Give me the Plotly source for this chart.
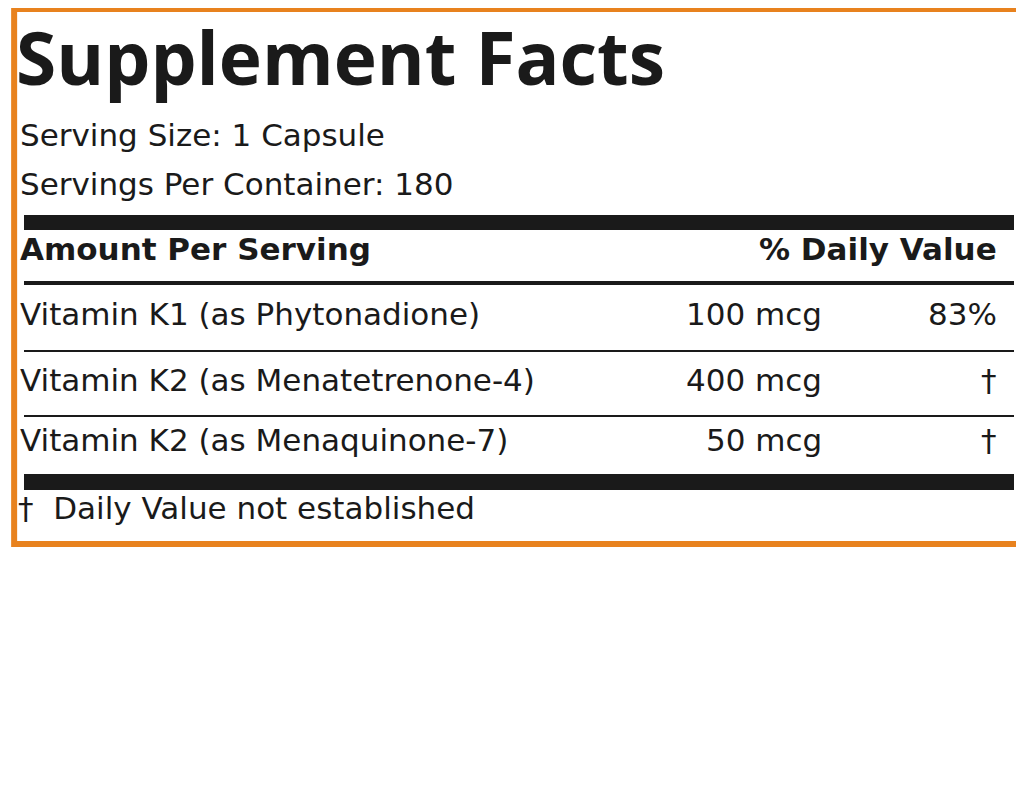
import plotly.graph_objects as go

ORANGE = "#E8821E"
INK = "#1a1a1a"
FONT = "DejaVu Sans"

title = "Supplement Facts"
serving_lines = ["Serving Size: 1 Capsule", "Servings Per Container: 180"]
header_left = "Amount Per Serving"
header_right = "% Daily Value"
nutrients = ["Vitamin K1 (as Phytonadione)", "Vitamin K2 (as Menatetrenone-4)", "Vitamin K2 (as Menaquinone-7)"]
amounts = ["100 mcg", "400 mcg", "50 mcg"]
daily_values = ["83%", "†", "†"]
footnote = "†  Daily Value not established"
other_label = "Other Ingredients:"
other_lines = [" Microcrystalline cellulose, modified", "cellulose capsule, magnesium stearate, silicon dioxide."]
dir_label = "Directions:"
dir_lines = [" As a dietary supplement for adults, take 1", "capsule daily with a meal or as directed by a healthcare", "professional."]

fig = go.Figure()
anns = []
DX, DY = -6, -6
def txt(x, y, s, size=31, anchor="left", color=INK, family=FONT):
    anns.append(dict(x=x + (DX if anchor == "left" else 4), y=y + DY, xref="x", yref="y", text=s, showarrow=False,
                     xanchor=anchor, yanchor="middle",
                     font=dict(family=family, size=size, color=color)))

txt(12, 54, "<b>" + title + "</b>", size=73, family="Open Sans")
for i, s in enumerate(serving_lines):
    txt(16, 133 + 49 * i, s)
txt(16, 247, "<b>" + header_left + "</b>")
txt(987, 247, "<b>" + header_right + "</b>", anchor="right")
row_y = [312, 378, 438]
for y, n, a, d in zip(row_y, nutrients, amounts, daily_values):
    txt(16, y, n)
    txt(812, y, a, anchor="right")
    txt(987, y, d, anchor="right")
txt(14, 506, footnote)
txt(4, 577, f"<span style='color:{ORANGE}'><b>{other_label}</b></span>{other_lines[0]}")
txt(4, 625, other_lines[1])
txt(4, 688, f"<span style='color:{ORANGE}'><b>{dir_label}</b></span>{dir_lines[0]}")
txt(4, 737, dir_lines[1])
txt(4, 782, dir_lines[2])

shapes = [
    dict(type="rect", xref="paper", yref="y", x0=0.006, x1=0.992, y0=1, y1=536, line=dict(color=ORANGE, width=6)),
    dict(type="rect", x0=16, x1=1006, y0=207, y1=222, fillcolor=INK, line_width=0),
    dict(type="rect", x0=16, x1=1006, y0=273, y1=277, fillcolor=INK, line_width=0),
    dict(type="rect", x0=16, x1=1006, y0=342, y1=344, fillcolor=INK, line_width=0),
    dict(type="rect", x0=16, x1=1006, y0=407, y1=409, fillcolor=INK, line_width=0),
    dict(type="rect", x0=16, x1=1006, y0=466, y1=482, fillcolor=INK, line_width=0),
]
fig.update_layout(width=1024, height=804, margin=dict(l=0, r=0, t=0, b=0),
                  paper_bgcolor="white", plot_bgcolor="white",
                  xaxis=dict(range=[0, 1024], visible=False, fixedrange=True),
                  yaxis=dict(range=[804, 0], visible=False, fixedrange=True),
                  annotations=anns, shapes=shapes, showlegend=False)
fig.write_html("out.html")
